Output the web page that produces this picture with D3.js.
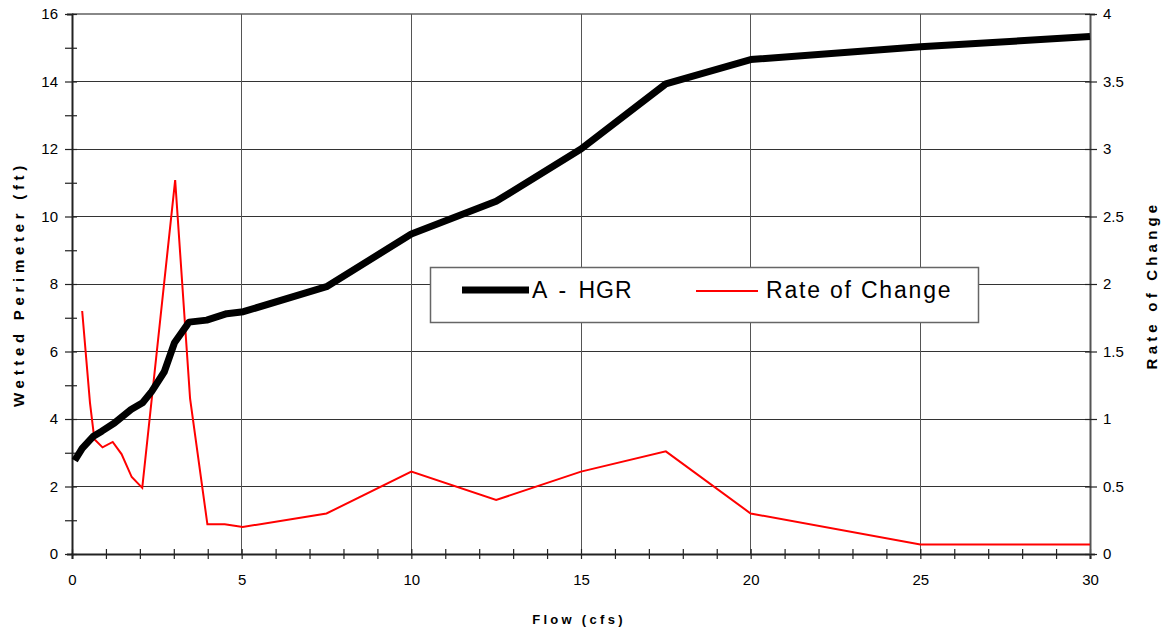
<!DOCTYPE html>
<html><head><meta charset="utf-8">
<script src="https://cdn.jsdelivr.net/npm/d3@7"></script>
<style>body{margin:0;background:#fff}svg{display:block}text{font-family:"Liberation Sans",Arial,sans-serif}</style>
</head><body><svg id="c" width="1165" height="633"></svg>
<script>
const hgrFlow = [0.08, 0.3, 0.62, 0.88, 1.25, 1.74, 2.08, 2.35, 2.72, 3.02, 3.45, 3.97, 4.56, 5.05, 7.5, 10, 12.5, 15, 17.5, 20, 25, 30];
const hgrWP   = [2.77, 3.13, 3.48, 3.64, 3.88, 4.28, 4.48, 4.82, 5.4, 6.26, 6.87, 6.93, 7.12, 7.18, 7.92, 9.48, 10.45, 12.0, 13.93, 14.65, 15.03, 15.33];
const rocFlow = [0.3, 0.53, 0.66, 0.9, 1.2, 1.46, 1.76, 2.07, 3.04, 3.48, 3.99, 4.5, 5.03, 7.5, 10, 12.5, 15, 17.5, 20, 25, 30];
const rocRate = [1.8, 1.12, 0.85, 0.79, 0.83, 0.74, 0.57, 0.49, 2.77, 1.15, 0.22, 0.22, 0.2, 0.3, 0.61, 0.4, 0.61, 0.76, 0.3, 0.07, 0.07];
const xTicks = [0, 5, 10, 15, 20, 25, 30];
const yLeftTicks = [0, 2, 4, 6, 8, 10, 12, 14, 16];
const yRightTicks = [0, 0.5, 1, 1.5, 2, 2.5, 3, 3.5, 4];
const seriesNames = ["A - HGR", "Rate of Change"];

const svg = d3.select("#c");
const L = 72, R = 1090, T = 14, B = 554;
const x = d3.scaleLinear().domain([0, 30]).range([L, R]);
const yL = d3.scaleLinear().domain([0, 16]).range([B, T]);
const yR = d3.scaleLinear().domain([0, 4]).range([B, T]);

// grid
const g = svg.append("g");
g.selectAll(".hg").data(yLeftTicks.filter(d => d > 0)).join("line")
  .attr("x1", L).attr("x2", R).attr("y1", d => yL(d)).attr("y2", d => yL(d))
  .attr("stroke", d => d === 16 ? "#888" : "#333").attr("stroke-width", d => d === 16 ? 2 : 1).attr("shape-rendering", "crispEdges");
g.selectAll(".vg").data(xTicks.filter(d => d > 0 && d < 30)).join("line")
  .attr("y1", T).attr("y2", B).attr("x1", d => x(d)).attr("x2", d => x(d))
  .attr("stroke", "#555").attr("stroke-width", 1).attr("shape-rendering", "crispEdges");

// axes
const fs = 15;
const xAx = svg.append("g").attr("transform", `translate(0,${B})`)
  .call(d3.axisBottom(x).tickValues(d3.range(0, 31, 1)).tickSize(5).tickFormat(d => xTicks.includes(d) ? d : ""));
const yAxL = svg.append("g").attr("transform", `translate(${L},0)`)
  .call(d3.axisLeft(yL).tickValues(d3.range(0, 17, 1)).tickSize(5).tickFormat(d => yLeftTicks.includes(d) ? d : ""));
const yAxR = svg.append("g").attr("transform", `translate(${R},0)`)
  .call(d3.axisRight(yR).tickValues(yRightTicks).tickSize(5).tickFormat(d => d));
[xAx, yAxL, yAxR].forEach(a => {
  a.select(".domain").attr("stroke", "#222").attr("stroke-width", 2);
  a.selectAll(".tick line").attr("stroke", "#222").attr("stroke-width", 1.2);
  a.selectAll("text").attr("font-size", fs).attr("fill", "#000").attr("font-family", "Liberation Sans, Arial, sans-serif");
});
xAx.selectAll(".tick line").attr("y1", -5);
xAx.selectAll("text").attr("dy", "1.55em");
yAxL.selectAll(".tick line").attr("x1", 5).attr("x2", -7);
yAxL.selectAll("text").attr("x", -14);
yAxR.selectAll(".tick line").attr("x1", -5).attr("x2", 7);
yAxR.selectAll("text").attr("x", 13);
yAxR.select(".domain").attr("stroke", "#555");

// lines
const lineL = d3.line().x(d => x(d[0])).y(d => yL(d[1]));
const lineR = d3.line().x(d => x(d[0])).y(d => yR(d[1]));
svg.append("path").datum(rocFlow.map((f, i) => [f, rocRate[i]]))
  .attr("d", lineR).attr("fill", "none").attr("stroke", "#ff0000").attr("stroke-width", 2).attr("stroke-linejoin", "miter");
svg.append("path").datum(hgrFlow.map((f, i) => [f, hgrWP[i]]))
  .attr("d", lineL).attr("fill", "none").attr("stroke", "#000").attr("stroke-width", 7).attr("stroke-linejoin", "round");

// legend
const lg = svg.append("g");
lg.append("rect").attr("x", 430.5).attr("y", 267.5).attr("width", 548).attr("height", 55)
  .attr("fill", "#fff").attr("stroke", "#666").attr("stroke-width", 1.5);
lg.append("line").attr("x1", 462).attr("x2", 529).attr("y1", 290).attr("y2", 290).attr("stroke", "#000").attr("stroke-width", 7);
lg.append("text").attr("x", 532).attr("y", 298).attr("font-size", 23).attr("letter-spacing", 1).attr("word-spacing", 4).text(seriesNames[0]);
lg.append("line").attr("x1", 696).attr("x2", 758).attr("y1", 291).attr("y2", 291).attr("stroke", "#ff0000").attr("stroke-width", 2);
lg.append("text").attr("x", 766).attr("y", 298).attr("font-size", 23).attr("letter-spacing", 1.8).text(seriesNames[1]);

// titles
svg.append("text").attr("x", 579).attr("y", 624).attr("text-anchor", "middle")
  .attr("font-size", 13).attr("font-weight", "bold").attr("letter-spacing", 3.3).text("Flow (cfs)");
svg.append("text").attr("transform", "translate(24,284) rotate(-90)").attr("text-anchor", "middle")
  .attr("font-size", 15).attr("font-weight", "bold").attr("font-family", "DejaVu Sans").attr("letter-spacing", 4.7).text("Wetted Perimeter (ft)");
svg.append("text").attr("transform", "translate(1157,285) rotate(-90)").attr("text-anchor", "middle")
  .attr("font-size", 15).attr("font-weight", "bold").attr("font-family", "DejaVu Sans").attr("letter-spacing", 4.2).text("Rate of Change");
</script></body></html>
